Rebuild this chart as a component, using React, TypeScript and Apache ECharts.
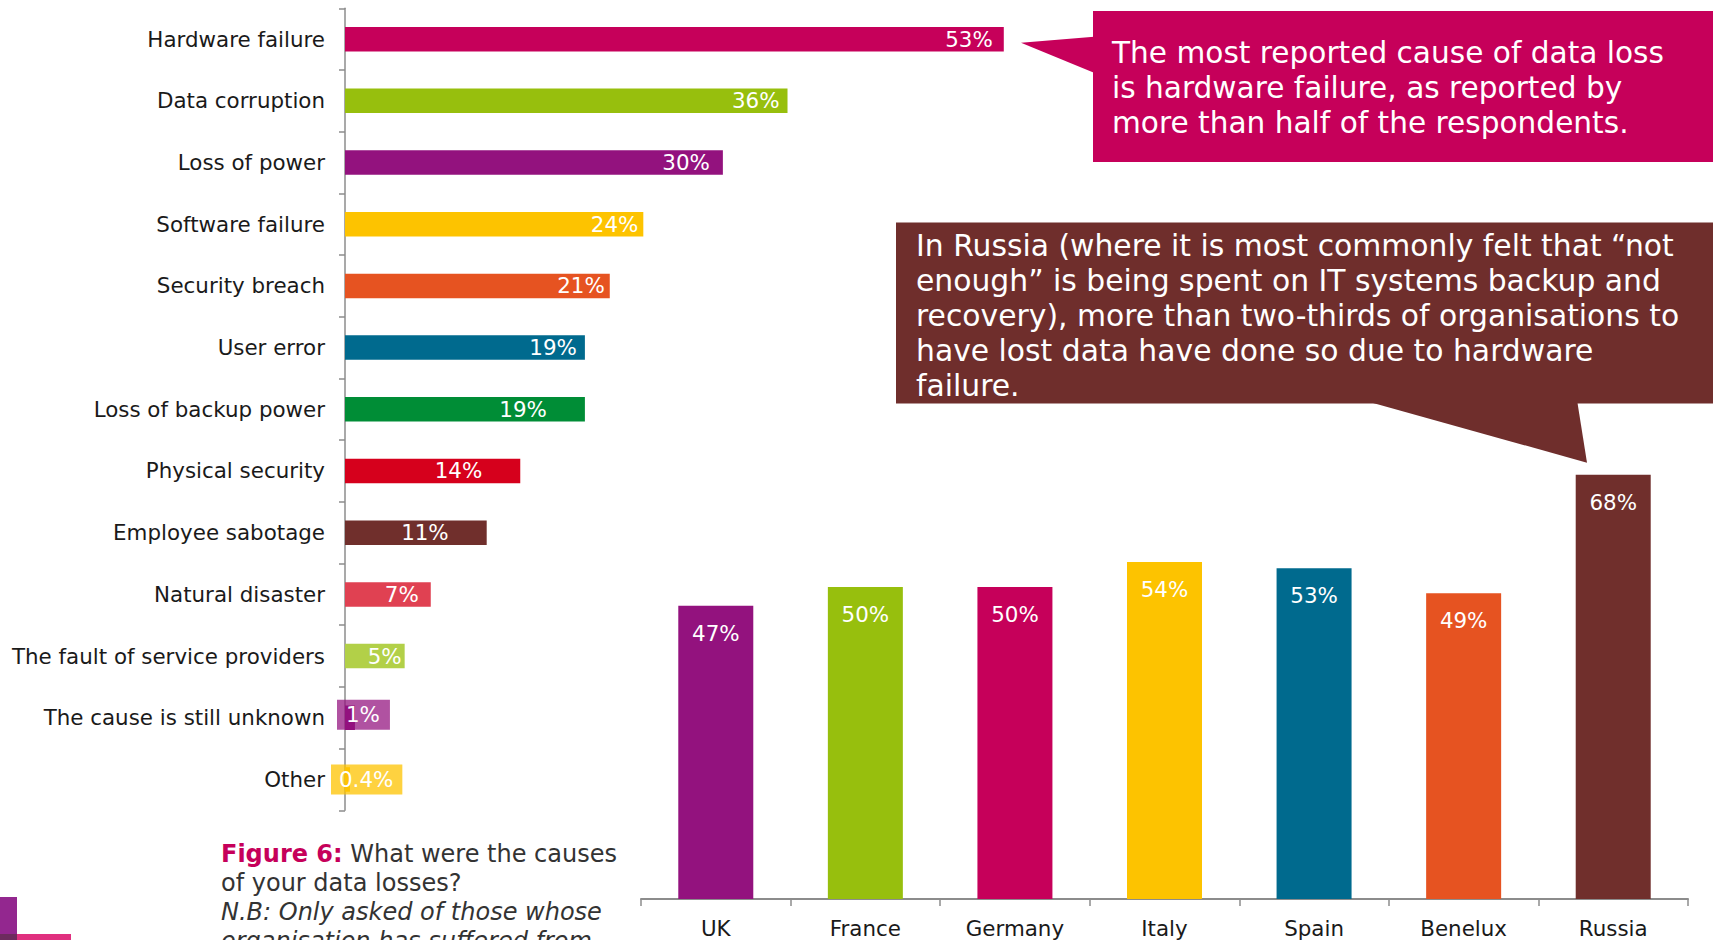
import React, { useEffect, useRef } from "react";
import * as echarts from "echarts";

const FONT = '"DejaVu Sans", Verdana, sans-serif';

// Left chart: causes of data loss
const causes = [
  "Hardware failure",
  "Data corruption",
  "Loss of power",
  "Software failure",
  "Security breach",
  "User error",
  "Loss of backup power",
  "Physical security",
  "Employee sabotage",
  "Natural disaster",
  "The fault of service providers",
  "The cause is still unknown",
  "Other",
];
const causeValues = [53, 35.6, 30.4, 24, 21.3, 19.3, 19.3, 14.1, 11.4, 6.9, 4.8, 0.8, 0.4];
const causeColors = [
  "#C6005A", "#97BF0D", "#93127E", "#FDC300", "#E65321", "#006A8E", "#008D36",
  "#D6001C", "#702F2C", "#E04152", "#B2D048", "#93127E", "#FDC300",
];
const causeLabelShift = [-3, 0, -5, 3, 3, 0, -30, -30, -30, -4, 5, 0, 0];

// Right chart: hardware failure by country
const countries = ["UK", "France", "Germany", "Italy", "Spain", "Benelux", "Russia"];
const countryValues = [47, 50, 50, 54, 53, 49, 68];
const countryColors = ["#93127E", "#97BF0D", "#C6005A", "#FDC300", "#006A8E", "#E65321", "#702F2C"];

const calloutTop = "The most reported cause of data loss\nis hardware failure, as reported by\nmore than half of the respondents.";
const calloutRussia =
  "In Russia (where it is most commonly felt that \u201cnot\nenough\u201d is being spent on IT systems backup and\nrecovery), more than two-thirds of organisations to\nhave lost data have done so due to hardware\nfailure.";

const fmt = (v: number) => (v < 0.5 ? v.toFixed(1) : String(Math.round(v))) + "%";

export default function App() {
  const ref = useRef<HTMLDivElement>(null);
  useEffect(() => {
    if (!ref.current) return;
    const chart = echarts.init(ref.current, undefined, { renderer: "svg" });
    const leftData = causeValues.map((v, i) => {
      const item: any = { value: v, itemStyle: { color: causeColors[i] } };
      if (v < 1) {
        const bg = i === 11 ? "rgba(147,18,126,0.73)" : "rgba(253,195,0,0.75)";
        item.label = {
          position: "insideLeft",
          distance: 0,
          offset: i === 11 ? [-8, -3] : [-14, 0],
          backgroundColor: bg,
          padding: i === 11 ? [5, 10, 4, 9] : [5, 9, 4, 8],
        };
      } else {
        item.label = { offset: [causeLabelShift[i], 0] };
      }
      return item;
    });
    const option: any = {
      animation: false,
      grid: [
        { left: 345, top: 8.3, height: 802, width: 60 * 12.43 },
        { left: 641, top: 275, height: 624, width: 1047 },
      ],
      xAxis: [
        { gridIndex: 0, type: "value", min: 0, max: 60, show: false },
        {
          gridIndex: 1,
          type: "category",
          data: countries,
          axisLine: { lineStyle: { color: "#8c8c8c", width: 2 } },
          axisTick: { show: true, length: 7, lineStyle: { color: "#8c8c8c", width: 1.5 } },
          axisLabel: { fontSize: 21.4, color: "#1a1a1a", fontFamily: FONT, margin: 19 },
        },
      ],
      yAxis: [
        {
          gridIndex: 0,
          type: "category",
          inverse: true,
          data: causes,
          axisLine: { lineStyle: { color: "#8c8c8c", width: 1.5 } },
          axisTick: { show: true, length: 6, lineStyle: { color: "#8c8c8c", width: 1.5 } },
          axisLabel: { fontSize: 21.4, color: "#1a1a1a", fontFamily: FONT, margin: 20 },
        },
        { gridIndex: 1, type: "value", min: 0, max: 100, show: false },
      ],
      series: [
        {
          type: "bar",
          xAxisIndex: 0,
          yAxisIndex: 0,
          barWidth: 24.5,
          data: leftData,
          label: {
            show: true,
            position: "insideRight",
            distance: 8,
            color: "#fff",
            fontSize: 21.4,
            fontFamily: FONT,
            formatter: (p: any) => fmt(p.value),
          },
        },
        {
          type: "bar",
          xAxisIndex: 1,
          yAxisIndex: 1,
          barWidth: 75,
          data: countryValues.map((v, i) => ({ value: v, itemStyle: { color: countryColors[i] } })),
          label: {
            show: true,
            position: "insideTop",
            distance: 17,
            color: "#fff",
            fontSize: 21.4,
            fontFamily: FONT,
            formatter: (p: any) => fmt(p.value),
          },
        },
      ],
      graphic: [
        { type: "rect", shape: { x: 1093, y: 11, width: 620, height: 151 }, style: { fill: "#C6005A" } },
        { type: "polygon", shape: { points: [[1094, 36.7], [1021, 42.7], [1094, 72.7]] }, style: { fill: "#C6005A" } },
        {
          type: "text",
          x: 1112,
          y: 35,
          style: { text: calloutTop, fill: "#fff", fontSize: 29.6, fontFamily: FONT, lineHeight: 35, verticalAlign: "top" },
        },
        { type: "rect", shape: { x: 896, y: 222.5, width: 817, height: 181 }, style: { fill: "#6F2E2C" } },
        { type: "polygon", shape: { points: [[1373, 403], [1587, 462.7], [1577.5, 403]] }, style: { fill: "#6F2E2C" } },
        {
          type: "text",
          x: 916,
          y: 227.5,
          style: { text: calloutRussia, fill: "#fff", fontSize: 29.8, fontFamily: FONT, lineHeight: 35, verticalAlign: "top" },
        },
        {
          type: "text",
          x: 221,
          y: 839,
          style: {
            text:
              "{b|Figure 6:} {n|What were the causes}\n{n|of your data losses?}\n{i|N.B: Only asked of those whose}\n{i|organisation has suffered from}",
            fill: "#333",
            fontSize: 24,
            fontFamily: FONT,
            lineHeight: 29,
            verticalAlign: "top",
            rich: {
              b: { fontSize: 24, fontFamily: FONT, fontWeight: "bold", fill: "#C6005A", lineHeight: 29 },
              n: { fontSize: 24, fontFamily: FONT, fill: "#333", lineHeight: 29 },
              i: { fontSize: 24, fontFamily: FONT, fontStyle: "italic", fill: "#333", lineHeight: 29 },
            },
          },
        },
        { type: "rect", shape: { x: 0, y: 897, width: 17, height: 43 }, style: { fill: "#93278F" } },
        { type: "rect", shape: { x: 17, y: 934, width: 54, height: 6 }, style: { fill: "#E0307F" } },
        { type: "rect", shape: { x: 0, y: 934, width: 17, height: 6 }, style: { fill: "#6D2B5E" } },
      ],
    };
    chart.setOption(option);
    return () => chart.dispose();
  }, []);
  return (
    <div
      ref={ref}
      style={{ position: "absolute", left: 0, top: 0, width: 1713, height: 940, background: "#fff" }}
    />
  );
}
